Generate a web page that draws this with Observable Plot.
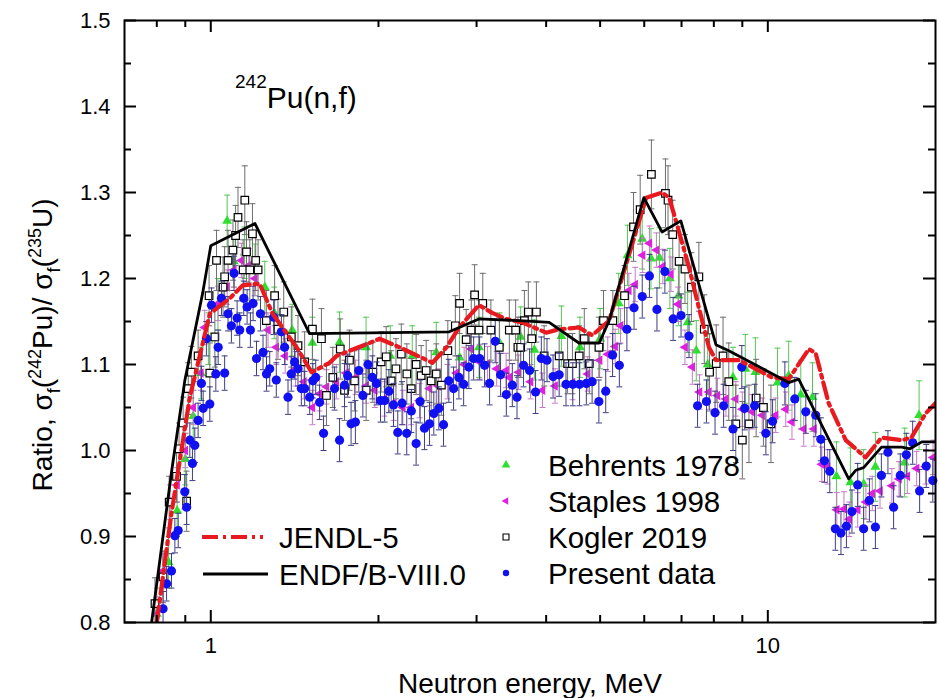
<!DOCTYPE html>
<html>
<head>
<meta charset="utf-8">
<script src="https://cdn.jsdelivr.net/npm/d3@7"></script>
<script src="https://cdn.jsdelivr.net/npm/@observablehq/plot@0.6"></script>
<style>
  body { margin: 0; background: #fff; }
  #chart { width: 940px; height: 698px; }
  #chart svg { font-family: "Liberation Sans", Arial, sans-serif; }
</style>
</head>
<body>
<div id="chart"></div>
<script>
// ---------- tick values ----------
const energyTicksMajor = [1, 10];
const energyTicksMinor = [0.8, 0.9, 2, 3, 4, 5, 6, 7, 8, 9];
const ratioTicksMajor = [0.8, 0.9, 1.0, 1.1, 1.2, 1.3, 1.4, 1.5];
const ratioTicksMinor = [0.85, 0.95, 1.05, 1.15, 1.25, 1.35, 1.45];

// ---------- evaluated curves: [energy MeV, ratio] ----------
const endfB8 = [[0.783,0.800],[0.851,0.977],[0.898,1.081],[0.967,1.183],[1.0,1.238],[1.2,1.264],[1.504,1.136],[2.68,1.138],[3.03,1.153],[3.58,1.151],[4.05,1.149],[4.58,1.125],[4.98,1.125],[5.19,1.151],[5.99,1.294],[6.46,1.254],[6.98,1.267],[8.07,1.123],[8.51,1.116],[10.9,1.079],[11.36,1.083],[13.97,0.967],[14.38,0.977],[14.86,0.980],[16.0,1.004],[17.4,1.004],[18.0,1.002],[18.9,1.010],[20.0,1.010]];

const jendl5 = [[0.800,0.800],[0.850,0.927],[0.917,1.062],[0.996,1.159],[1.082,1.177],[1.141,1.192],[1.224,1.194],[1.291,1.159],[1.426,1.120],[1.517,1.091],[1.634,1.102],[1.682,1.110],[1.927,1.125],[2.009,1.130],[2.182,1.120],[2.50,1.102],[2.65,1.120],[2.79,1.143],[3.03,1.169],[3.20,1.160],[3.39,1.153],[3.62,1.149],[4.00,1.137],[4.22,1.141],[4.58,1.143],[4.84,1.134],[5.19,1.151],[5.57,1.217],[6.05,1.294],[6.46,1.300],[6.65,1.294],[6.84,1.267],[7.22,1.213],[7.52,1.166],[7.84,1.120],[8.07,1.105],[8.87,1.105],[9.25,1.099],[10.17,1.085],[10.9,1.083],[11.85,1.118],[12.19,1.113],[12.86,1.055],[13.8,1.012],[14.98,0.992],[16.0,1.015],[17.4,1.012],[18.1,1.015],[19.2,1.043],[20.0,1.055]];

// ---------- measurements: [energy MeV, ratio, uncertainty] ----------
const behrents1978 = [[0.80,0.81,0.03],[0.84,0.87,0.03],[0.87,0.93,0.03],[0.90,0.99,0.03],[0.93,1.04,0.03],[0.96,1.09,0.03],[0.99,1.13,0.03],[1.03,1.17,0.03],[1.07,1.267,0.03],[1.10,1.22,0.03],[1.15,1.23,0.03],[1.20,1.21,0.03],[1.25,1.19,0.03],[1.30,1.16,0.03],[1.40,1.14,0.03],[1.522,1.125,0.03],[1.703,1.126,0.035],[1.90,1.12,0.035],[2.10,1.11,0.035],[2.30,1.11,0.035],[2.54,1.114,0.035],[2.797,1.108,0.035],[3.03,1.12,0.035],[3.30,1.125,0.035],[3.60,1.132,0.035],[3.81,1.117,0.035],[4.26,1.133,0.035],[4.6,1.12,0.035],[5.0,1.13,0.035],[5.40,1.171,0.035],[5.60,1.227,0.035],[5.95,1.246,0.035],[6.17,1.223,0.035],[6.39,1.224,0.035],[6.67,1.200,0.035],[6.91,1.180,0.035],[7.18,1.149,0.035],[7.44,1.116,0.035],[7.8,1.100,0.035],[8.66,1.085,0.035],[9.11,1.095,0.04],[9.50,1.091,0.04],[10.41,1.079,0.04],[10.9,1.087,0.04],[11.46,1.065,0.04],[12.03,1.062,0.04],[13.28,0.970,0.04],[14.07,0.963,0.04],[14.86,0.961,0.04],[15.60,0.981,0.04],[17.61,0.986,0.04],[18.69,1.041,0.04]];

const staples1998 = [[0.80,0.81,0.02],[0.82,0.86,0.02],[0.845,0.94,0.02],[0.87,0.96,0.02],[0.90,1.00,0.02],[0.93,1.05,0.02],[0.96,1.09,0.02],[0.975,1.143,0.02],[1.031,1.171,0.02],[1.07,1.19,0.02],[1.10,1.21,0.02],[1.135,1.221,0.02],[1.17,1.215,0.02],[1.20,1.20,0.02],[1.267,1.140,0.02],[1.311,1.120,0.02],[1.36,1.11,0.02],[1.42,1.095,0.02],[1.47,1.08,0.02],[1.522,1.050,0.02],[1.568,1.066,0.02],[1.613,1.074,0.02],[1.68,1.08,0.02],[1.75,1.09,0.02],[1.82,1.085,0.02],[1.90,1.075,0.02],[1.97,1.07,0.02],[2.05,1.06,0.02],[2.13,1.055,0.02],[2.212,1.050,0.02],[2.29,1.05,0.02],[2.37,1.058,0.02],[2.47,1.072,0.02],[2.56,1.075,0.02],[2.66,1.08,0.02],[2.76,1.09,0.02],[2.85,1.10,0.02],[2.935,1.118,0.02],[3.038,1.103,0.02],[3.14,1.101,0.02],[3.26,1.095,0.02],[3.39,1.093,0.02],[3.435,1.085,0.02],[3.57,1.091,0.02],[3.75,1.08,0.02],[3.94,1.070,0.02],[4.15,1.075,0.02],[4.46,1.079,0.02],[4.75,1.089,0.02],[4.99,1.105,0.02],[5.16,1.112,0.02],[5.32,1.121,0.02],[5.44,1.145,0.02],[5.63,1.186,0.02],[5.78,1.193,0.02],[5.96,1.227,0.02],[6.13,1.241,0.02],[6.31,1.233,0.02],[6.48,1.214,0.02],[6.70,1.205,0.02],[6.9,1.17,0.02],[7.10,1.120,0.02],[7.32,1.097,0.02],[7.54,1.068,0.02],[7.84,1.068,0.02],[8.12,1.064,0.02],[8.41,1.060,0.02],[8.76,1.060,0.02],[9.00,1.048,0.02],[9.37,1.045,0.02],[9.77,1.041,0.02],[10.33,1.041,0.02],[10.77,1.048,0.02],[11.05,1.033,0.02],[11.6,1.025,0.02],[12.1,1.025,0.02],[12.5,0.984,0.02],[12.8,0.981,0.02],[13.3,0.931,0.02],[13.7,0.932,0.02],[14.0,0.920,0.02],[14.5,0.931,0.02],[15.0,0.940,0.02],[15.4,0.950,0.02],[15.9,0.953,0.02],[16.7,0.959,0.02],[17.2,0.967,0.02],[17.8,0.970,0.02],[18.5,0.979,0.02],[19.2,0.981,0.02],[19.8,0.992,0.02]];

const kogler2019 = [[0.794,0.822,0.03],[0.821,0.853,0.03],[0.842,0.940,0.03],[0.868,0.970,0.03],[0.877,1.002,0.03],[0.892,1.032,0.03],[0.905,0.941,0.035],[0.911,1.072,0.03],[0.923,1.091,0.03],[0.949,1.110,0.03],[0.993,1.180,0.035],[0.996,1.090,0.035],[1.017,1.132,0.035],[1.024,1.221,0.035],[1.052,1.190,0.035],[1.059,1.202,0.035],[1.074,1.221,0.035],[1.096,1.233,0.035],[1.108,1.250,0.035],[1.119,1.271,0.035],[1.143,1.210,0.035],[1.151,1.291,0.04],[1.159,1.231,0.035],[1.175,1.210,0.035],[1.188,1.252,0.035],[1.204,1.221,0.035],[1.216,1.210,0.035],[1.258,1.151,0.035],[1.302,1.180,0.035],[1.320,1.141,0.035],[1.352,1.161,0.035],[1.395,1.132,0.035],[1.434,1.122,0.035],[1.474,1.103,0.035],[1.522,1.141,0.035],[1.580,1.130,0.035],[1.613,1.064,0.035],[1.656,1.085,0.035],[1.708,1.118,0.035],[1.738,1.070,0.035],[1.774,1.105,0.035],[1.812,1.081,0.035],[1.901,1.070,0.035],[1.954,1.091,0.035],[2.022,1.103,0.035],[2.065,1.109,0.035],[2.108,1.081,0.035],[2.150,1.095,0.035],[2.198,1.112,0.035],[2.249,1.089,0.035],[2.290,1.072,0.035],[2.337,1.100,0.035],[2.386,1.087,0.035],[2.436,1.093,0.035],[2.487,1.081,0.035],[2.540,1.089,0.035],[2.594,1.076,0.035],[2.664,1.116,0.035],[2.748,1.145,0.035],[2.797,1.171,0.035],[2.874,1.129,0.035],[2.935,1.140,0.035],[2.976,1.181,0.035],[3.030,1.140,0.035],[3.078,1.171,0.035],[3.183,1.140,0.035],[3.296,1.120,0.035],[3.435,1.140,0.035],[3.526,1.140,0.035],[3.559,1.120,0.035],[3.600,1.120,0.035],[3.656,1.151,0.035],[3.716,1.161,0.035],[3.769,1.130,0.035],[3.842,1.161,0.035],[3.967,1.110,0.035],[4.221,1.110,0.035],[4.371,1.101,0.035],[4.459,1.101,0.035],[4.586,1.110,0.035],[4.683,1.130,0.035],[4.781,1.101,0.035],[4.975,1.120,0.035],[5.07,1.151,0.035],[5.27,1.151,0.035],[5.53,1.180,0.035],[5.74,1.260,0.04],[5.90,1.280,0.04],[6.18,1.321,0.04],[6.55,1.299,0.04],[6.62,1.291,0.04],[6.75,1.251,0.04],[6.93,1.220,0.04],[7.10,1.211,0.04],[7.29,1.190,0.04],[7.52,1.202,0.04],[7.69,1.141,0.04],[7.86,1.091,0.045],[8.08,1.101,0.045],[8.31,1.110,0.045],[8.51,1.080,0.045],[8.76,1.031,0.045],[9.00,1.012,0.045],[9.25,1.031,0.045],[9.53,1.061,0.045],[9.82,1.050,0.045],[10.13,1.031,0.045]];

const presentData = [[0.821,0.816,0.02],[0.833,0.845,0.02],[0.850,0.860,0.02],[0.862,0.901,0.02],[0.874,0.907,0.02],[0.898,0.952,0.02],[0.905,0.934,0.02],[0.917,1.012,0.02],[0.927,0.985,0.02],[0.936,1.006,0.02],[0.949,1.035,0.02],[0.962,1.078,0.02],[0.969,1.049,0.02],[0.982,1.130,0.02],[0.996,1.054,0.02],[1.003,1.169,0.02],[1.021,1.089,0.02],[1.031,1.120,0.02],[1.045,1.177,0.02],[1.059,1.090,0.02],[1.074,1.159,0.02],[1.089,1.145,0.02],[1.101,1.206,0.02],[1.115,1.154,0.02],[1.127,1.140,0.02],[1.146,1.177,0.02],[1.162,1.167,0.02],[1.178,1.140,0.02],[1.191,1.171,0.02],[1.208,1.107,0.02],[1.228,1.159,0.02],[1.241,1.114,0.02],[1.259,1.089,0.02],[1.276,1.095,0.02],[1.297,1.155,0.02],[1.311,1.082,0.02],[1.339,1.138,0.02],[1.357,1.120,0.02],[1.376,1.062,0.02],[1.395,1.089,0.02],[1.414,1.103,0.02],[1.434,1.095,0.02],[1.454,1.072,0.02],[1.474,1.072,0.02],[1.505,1.062,0.02],[1.525,1.081,0.02],[1.543,1.085,0.02],[1.568,1.056,0.02],[1.594,1.020,0.02],[1.668,1.072,0.025],[1.703,1.012,0.025],[1.738,1.076,0.025],[1.761,1.087,0.025],[1.786,1.031,0.025],[1.818,1.033,0.025],[1.844,1.093,0.025],[1.875,1.064,0.025],[1.915,1.100,0.025],[1.950,1.085,0.025],[1.984,1.078,0.025],[2.017,1.058,0.025],[2.052,1.058,0.025],[2.088,1.069,0.025],[2.128,1.053,0.025],[2.166,1.021,0.025],[2.205,1.055,0.025],[2.248,1.020,0.025],[2.291,1.046,0.025],[2.337,1.008,0.025],[2.376,1.057,0.025],[2.419,1.026,0.025],[2.470,1.031,0.025],[2.514,1.043,0.025],[2.567,1.049,0.025],[2.617,1.030,0.025],[2.675,1.081,0.025],[2.728,1.072,0.025],[2.789,1.085,0.025],[2.844,1.077,0.025],[2.906,1.097,0.025],[2.964,1.107,0.025],[3.038,1.107,0.025],[3.101,1.099,0.025],[3.166,1.078,0.025],[3.241,1.127,0.025],[3.313,1.088,0.025],[3.393,1.065,0.025],[3.478,1.076,0.025],[3.546,1.062,0.025],[3.643,1.099,0.025],[3.735,1.093,0.025],[3.829,1.068,0.025],[3.921,1.107,0.025],[4.014,1.105,0.025],[4.116,1.086,0.025],[4.221,1.088,0.025],[4.342,1.077,0.025],[4.466,1.077,0.025],[4.592,1.077,0.025],[4.723,1.078,0.025],[4.837,1.080,0.025],[4.974,1.057,0.025],[5.117,1.069,0.025],[5.264,1.111,0.025],[5.413,1.099,0.025],[5.585,1.141,0.025],[5.752,1.166,0.025],[5.951,1.179,0.025],[6.130,1.203,0.025],[6.324,1.164,0.025],[6.534,1.208,0.025],[6.762,1.153,0.025],[6.986,1.157,0.025],[7.22,1.133,0.025],[7.48,1.052,0.025],[7.76,1.057,0.025],[8.04,1.044,0.025],[8.33,1.052,0.025],[8.66,1.025,0.025],[8.98,1.097,0.025],[9.09,1.049,0.025],[9.47,1.052,0.025],[9.92,1.020,0.025],[10.2,1.034,0.025],[10.73,1.078,0.025],[11.18,1.060,0.025],[11.70,1.045,0.025],[12.19,1.041,0.025],[12.45,1.013,0.025],[12.64,0.988,0.025],[12.92,0.976,0.025],[13.22,0.909,0.025],[13.53,0.904,0.025],[13.84,0.912,0.025],[14.16,0.929,0.025],[14.50,0.960,0.025],[14.86,0.909,0.025],[15.22,0.942,0.025],[15.60,0.911,0.025],[15.99,0.971,0.025],[16.43,0.998,0.025],[16.82,0.934,0.025],[17.29,0.971,0.025],[17.73,0.995,0.025],[18.20,1.009,0.025],[18.73,0.953,0.025],[19.25,0.982,0.025],[19.78,0.965,0.025]];

// ---------- layout ----------
const W = 940, H = 698, mL = 124, mR = 5, mT = 20, mB = 76;
const fw = W - mL - mR, fh = H - mT - mB;
const majorLen = 12, minorLen = 7;

// ---------- symbols ----------
const triUp = {draw(c, s) { const R = Math.sqrt(s / Math.PI) * 1.3; c.moveTo(0, -R); c.lineTo(R * 0.866, R * 0.5); c.lineTo(-R * 0.866, R * 0.5); c.closePath(); }};
const triLeft = {draw(c, s) { const R = Math.sqrt(s / Math.PI) * 1.3; c.moveTo(-R, 0); c.lineTo(R * 0.5, -R * 0.866); c.lineTo(R * 0.5, R * 0.866); c.closePath(); }};
const square = {draw(c, s) { const h = Math.sqrt(s / Math.PI) * 0.9; c.rect(-h, -h, 2 * h, 2 * h); }};
const cap = {draw(c, s) { const w = Math.sqrt(s / Math.PI); c.moveTo(-w, 0); c.lineTo(w, 0); }};

function series(data, {fill, stroke = "none", sym, r, err, sw = 1}) {
  return [
    Plot.ruleX(data, {x: d => d[0], y1: d => d[1] - d[2], y2: d => d[1] + d[2], stroke: err, strokeWidth: 1, clip: true}),
    Plot.dot(data, {x: d => d[0], y: d => d[1] - d[2], symbol: cap, r: 3, stroke: err, strokeWidth: 1, clip: true}),
    Plot.dot(data, {x: d => d[0], y: d => d[1] + d[2], symbol: cap, r: 3, stroke: err, strokeWidth: 1, clip: true}),
    Plot.dot(data, {x: d => d[0], y: d => d[1], symbol: sym, r, fill, stroke, strokeWidth: sw})
  ];
}

const colors = {behrents: "#2ee02e", staples: "#e020e0", kogler: "#000", present: "#1010f0", jendl: "#e8191f", endf: "#000"};

const plot = Plot.plot({
  width: W, height: H,
  marginLeft: mL, marginRight: mR, marginTop: mT, marginBottom: mB,
  style: {background: "#fff", fontFamily: "'Liberation Sans', Arial, sans-serif", fontSize: "22px", overflow: "visible"},
  x: {type: "log", domain: [0.7, 20]},
  y: {domain: [0.8, 1.5]},
  marks: [
    ...series(behrents1978, {fill: colors.behrents, sym: triUp, r: 4.4, err: "#55c855"}),
    ...series(staples1998, {fill: colors.staples, sym: triLeft, r: 4.2, err: "#c979c9"}),
    ...series(kogler2019, {fill: "#fff", stroke: "#000", sw: 1.2, sym: square, r: 4.2, err: "#6e6e6e"}),
    ...series(presentData, {fill: colors.present, sym: "circle", r: 4.6, err: "#3d3d85"}),
    Plot.line(jendl5, {x: d => d[0], y: d => d[1], stroke: colors.jendl, strokeWidth: 4.2, strokeDasharray: "16,5,3,5", clip: true}),
    Plot.line(endfB8, {x: d => d[0], y: d => d[1], stroke: colors.endf, strokeWidth: 2.8, clip: true}),
    // ticks (inward, all four sides)
    Plot.tickX(energyTicksMajor, {x: d => d, insetTop: fh - majorLen, strokeWidth: 2}),
    Plot.tickX(energyTicksMajor, {x: d => d, insetBottom: fh - majorLen, strokeWidth: 2}),
    Plot.tickX(energyTicksMinor, {x: d => d, insetTop: fh - minorLen, strokeWidth: 2}),
    Plot.tickX(energyTicksMinor, {x: d => d, insetBottom: fh - minorLen, strokeWidth: 2}),
    Plot.tickY(ratioTicksMajor, {y: d => d, insetRight: fw - majorLen, strokeWidth: 2}),
    Plot.tickY(ratioTicksMajor, {y: d => d, insetLeft: fw - majorLen, strokeWidth: 2}),
    Plot.tickY(ratioTicksMinor, {y: d => d, insetRight: fw - minorLen, strokeWidth: 2}),
    Plot.tickY(ratioTicksMinor, {y: d => d, insetLeft: fw - minorLen, strokeWidth: 2}),
    Plot.axisX(energyTicksMajor, {tickSize: 0, tickPadding: 15, tickFormat: d => String(d), fontSize: 22, label: null}),
    Plot.axisY(ratioTicksMajor, {tickSize: 0, tickPadding: 14, tickFormat: d3.format(".1f"), fontSize: 22, label: null}),
    Plot.frame({stroke: "#000", strokeWidth: 2})
  ]
});

document.getElementById("chart").appendChild(plot);
const svg = d3.select(plot);
const ff = "'Liberation Sans', Arial, sans-serif";

// x title
svg.append("text").attr("x", 530).attr("y", 693).attr("text-anchor", "middle")
  .attr("font-family", ff).attr("font-size", 28).attr("fill", "#000").text("Neutron energy, MeV");

// y title with sub/superscripts
const yt = svg.append("text").attr("transform", "translate(52,345) rotate(-90)")
  .attr("text-anchor", "middle").attr("font-family", ff).attr("font-size", 28).attr("fill", "#000");
yt.append("tspan").text("Ratio, σ");
yt.append("tspan").attr("font-size", 18).attr("dy", 8).text("f");
yt.append("tspan").attr("dy", -8).text("(");
yt.append("tspan").attr("font-size", 18).attr("dy", -11).text("242");
yt.append("tspan").attr("dy", 11).text("Pu)/ σ");
yt.append("tspan").attr("font-size", 18).attr("dy", 8).text("f");
yt.append("tspan").attr("dy", -8).text("(");
yt.append("tspan").attr("font-size", 18).attr("dy", -11).text("235");
yt.append("tspan").attr("dy", 11).text("U)");

// reaction annotation
const ann = svg.append("text").attr("x", 235).attr("y", 108).attr("text-anchor", "start")
  .attr("font-family", ff).attr("fill", "#000");
ann.append("tspan").attr("font-size", 19).attr("dy", -20).text("242");
ann.append("tspan").attr("font-size", 30).attr("dy", 20).text("Pu(n,f)");

// legend: evaluated curves
const lg = svg.append("g").attr("font-family", ff).attr("font-size", 29.5).attr("fill", "#000").attr("text-anchor", "start");
lg.append("line").attr("x1", 202).attr("x2", 263).attr("y1", 537).attr("y2", 537)
  .attr("stroke", colors.jendl).attr("stroke-width", 4.2).attr("stroke-dasharray", "16,5,3,5");
lg.append("line").attr("x1", 203).attr("x2", 268).attr("y1", 574).attr("y2", 574)
  .attr("stroke", colors.endf).attr("stroke-width", 2.8);
lg.append("text").attr("x", 279).attr("y", 537).attr("dy", "0.36em").text("JENDL-5");
lg.append("text").attr("x", 279).attr("y", 574).attr("dy", "0.36em").text("ENDF/B-VIII.0");

// legend: measurements
const legendItems = [
  {label: "Behrents 1978", y: 465, sym: triUp, fill: colors.behrents, stroke: "none", r: 3.8},
  {label: "Staples 1998", y: 501, sym: triLeft, fill: colors.staples, stroke: "none", r: 3.4},
  {label: "Kogler 2019", y: 537, sym: square, fill: "#fff", stroke: "#000", r: 3.3},
  {label: "Present data", y: 573, sym: d3.symbolCircle, fill: colors.present, stroke: "none", r: 3.2}
];
for (const it of legendItems) {
  lg.append("path").attr("transform", `translate(506,${it.y})`)
    .attr("d", d3.symbol(it.sym, Math.PI * it.r * it.r)())
    .attr("fill", it.fill).attr("stroke", it.stroke).attr("stroke-width", 1.1);
  lg.append("text").attr("x", 548).attr("y", it.y).attr("dy", "0.36em").text(it.label);
}
</script>
</body>
</html>
